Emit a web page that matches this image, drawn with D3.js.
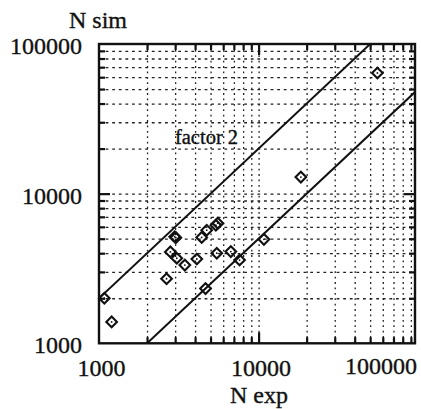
<!DOCTYPE html>
<html>
<head>
<meta charset="utf-8">
<script src="https://cdn.jsdelivr.net/npm/d3@7"></script>
<style>
  html, body { margin: 0; padding: 0; background: #fff; }
  svg { display: block; }
  text { font-family: "Liberation Serif", "DejaVu Serif", serif; fill: #111; stroke: #111; stroke-width: 0.35; }
</style>
</head>
<body>
<svg id="chart" width="421" height="409"></svg>
<script>
// Measured vs simulated counts (log-log)
const nExp = [55500, 18400, 1080, 1200, 2650, 2800, 2980, 3030, 3070, 3450, 4100, 4400, 4730, 5400, 5550, 5470, 4650, 6700, 7600, 10800];
const nSim = [64000, 12900, 2000, 1390, 2700, 4080, 5150, 5080, 3700, 3330, 3660, 5100, 5700, 6150, 6350, 4000, 2320, 4100, 3600, 4950];

const xTickLabels = [1000, 10000, 100000];
const yTickLabels = [1000, 10000, 100000];
const factor = 2;

const svg = d3.select("#chart");
const pLeft = 99, pRight = 415, pTop = 44, pBottom = 343.3;
const W = pRight - pLeft, H = pBottom - pTop;

const x = d3.scaleLog().domain([1000, 95500]).range([pLeft, pRight]);
const y = d3.scaleLog().domain([1000, 100000]).range([pBottom, pTop]);

// minor positions 2..9 in each decade plus the decade itself
const minorX = [], minorY = [];
[1000, 10000].forEach(d => { for (let k = 2; k <= 9; k++) { minorX.push(d * k); minorY.push(d * k); } });
const majorX = [10000], majorY = [10000];
const xMinor = minorX.filter(v => v < 95500);
const gridX = xMinor.concat(majorX);
const gridY = minorY.concat(majorY);

// dotted grid
const gx = svg.append("g").attr("transform", `translate(0,${pBottom})`)
  .call(d3.axisBottom(x).tickValues(gridX).tickSize(-H).tickFormat(""));
gx.select(".domain").remove();
gx.selectAll("line").attr("stroke", "#222").attr("stroke-width", 1.3).attr("stroke-dasharray", "1.8,3.6");

const gy = svg.append("g").attr("transform", `translate(${pLeft},0)`)
  .call(d3.axisLeft(y).tickValues(gridY).tickSize(-W).tickFormat(""));
gy.select(".domain").remove();
gy.selectAll("line").attr("stroke", "#222").attr("stroke-width", 1.3).attr("stroke-dasharray", "2.8,3.8");

// inward ticks on all four sides
function ticks(axisFn, scale, vals, len, transform) {
  const g = svg.append("g").attr("transform", transform)
    .call(axisFn(scale).tickValues(vals).tickSize(-len).tickFormat(""));
  g.select(".domain").remove();
  g.selectAll("line").attr("stroke", "#111").attr("stroke-width", 2.2);
}
ticks(d3.axisBottom, x, xMinor, 6, `translate(0,${pBottom})`);
ticks(d3.axisBottom, x, majorX, 11, `translate(0,${pBottom})`);
ticks(d3.axisTop, x, xMinor, 6, `translate(0,${pTop})`);
ticks(d3.axisTop, x, majorX, 11, `translate(0,${pTop})`);
ticks(d3.axisLeft, y, minorY, 6, `translate(${pLeft},0)`);
ticks(d3.axisLeft, y, majorY, 11, `translate(${pLeft},0)`);
ticks(d3.axisRight, y, minorY, 6, `translate(${pRight},0)`);
ticks(d3.axisRight, y, majorY, 11, `translate(${pRight},0)`);

// factor-2 band lines, clipped to the frame
svg.append("clipPath").attr("id", "plotclip")
  .append("rect").attr("x", pLeft).attr("y", pTop).attr("width", W).attr("height", H);
const band = [factor, 1 / factor];
const xs = [1000, 95500];
svg.append("g").attr("clip-path", "url(#plotclip)")
  .selectAll("line").data(band).join("line")
  .attr("x1", x(xs[0])).attr("y1", f => y(xs[0] * f))
  .attr("x2", x(xs[1])).attr("y2", f => y(xs[1] * f))
  .attr("stroke", "#111").attr("stroke-width", 2);

// frame
svg.append("rect").attr("x", pLeft).attr("y", pTop).attr("width", W).attr("height", H)
  .attr("fill", "none").attr("stroke", "#111").attr("stroke-width", 2.4);

// data markers: open diamonds with a centre dot
const pts = nExp.map((v, i) => ({ e: v, s: nSim[i] }));
const sym = d3.symbol().type(d3.symbolDiamond2).size(72);
const mk = svg.append("g");
mk.selectAll("path").data(pts).join("path")
  .attr("transform", d => `translate(${x(d.e)},${y(d.s)})`)
  .attr("d", sym).attr("fill", "none").attr("stroke", "#111").attr("stroke-width", 2.1);
mk.selectAll("circle").data(pts).join("circle")
  .attr("cx", d => x(d.e)).attr("cy", d => y(d.s)).attr("r", 0.9).attr("fill", "#111");

// tick labels
const fmt = d3.format("d");
svg.append("g").selectAll("text").data(xTickLabels).join("text")
  .attr("x", v => v >= 100000 ? pRight + 2 : x(v) + 2.5)
  .attr("y", v => v >= 100000 ? 374 : 375.5)
  .attr("text-anchor", v => v >= 100000 ? "end" : "middle")
  .attr("font-size", 24)
  .text(fmt);
svg.append("g").selectAll("text").data(yTickLabels).join("text")
  .attr("x", 82)
  .attr("y", v => y(v) + 10)
  .attr("text-anchor", "end")
  .attr("font-size", 24)
  .text(fmt);

// axis titles and annotation
svg.append("text").attr("x", 98).attr("y", 27.5).attr("text-anchor", "middle")
  .attr("font-size", 24).text("N sim");
svg.append("text").attr("x", 259).attr("y", 402.5).attr("text-anchor", "middle")
  .attr("font-size", 24).text("N exp");
svg.append("text").attr("x", 206.5).attr("y", 143.5).attr("text-anchor", "middle")
  .attr("font-size", 20.5).text("factor 2");
</script>
</body>
</html>
